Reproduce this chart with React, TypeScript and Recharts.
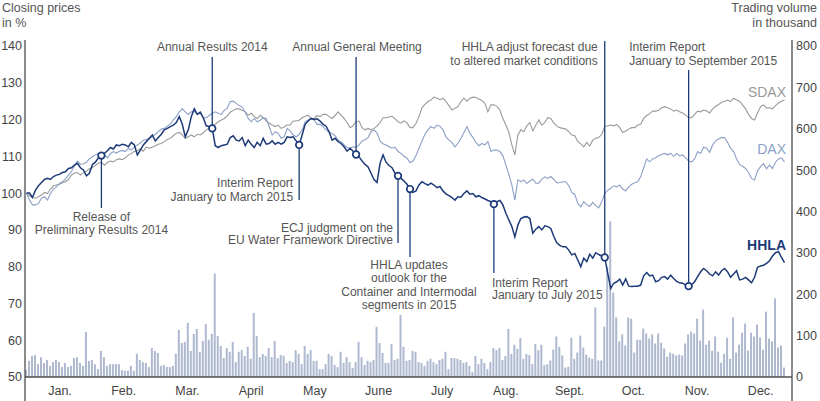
import React from 'react';
import { ComposedChart, Bar, Line, XAxis, YAxis } from 'recharts';

// ---------- data ----------
const months = ['Jan.', 'Feb.', 'Mar.', 'April', 'May', 'June', 'July', 'Aug.', 'Sept.', 'Oct.', 'Nov.', 'Dec.'];
const leftTicks = [50, 60, 70, 80, 90, 100, 110, 120, 130, 140];
const rightTicks = [0, 100, 200, 300, 400, 500, 600, 700, 800];

const hhla = [
  100.0, 100.0, 98.8, 100.8, 102.0, 102.9, 103.7, 104.0, 103.7, 104.5,
  104.9, 105.1, 105.6, 105.8, 106.7, 106.9, 107.6, 108.1, 106.9, 106.3,
  104.7, 105.4, 107.8, 108.4, 109.6, 110.2, 110.8, 111.5, 112.4, 112.0,
  113.1, 112.9, 113.3, 113.1, 112.6, 113.8, 113.1, 110.4, 111.7, 113.1,
  114.0, 114.9, 115.8, 114.2, 115.1, 116.0, 117.2, 117.6, 118.1, 118.5,
  119.2, 120.8, 118.7, 115.3, 117.2, 120.8, 122.9, 121.4, 122.0, 120.5,
  118.3, 118.1, 117.6, 112.9, 112.4, 112.9, 113.1, 113.3, 115.1, 115.6,
  114.4, 114.2, 115.1, 112.9, 114.4, 113.3, 112.4, 113.8, 112.9, 114.9,
  113.3, 113.5, 114.2, 113.3, 113.8, 113.3, 113.8, 115.3,
  115.1, 115.3, 114.2, 113.1, 115.8, 118.7, 119.6, 120.3, 120.0, 120.2,
  119.6, 118.7, 118.2, 116.7, 114.4, 114.9, 114.0, 113.5, 112.6, 111.4,
  112.2, 111.4, 110.5, 109.9, 108.7, 107.8, 107.1, 105.4, 103.7, 102.9,
  108.1, 110.4, 108.4, 107.5, 106.9, 105.4, 104.7, 104.0, 103.3, 102.4,
  101.1, 100.2, 100.6, 102.2, 103.1, 102.6, 102.2, 102.7, 102.2, 101.5,
  101.8, 100.6, 99.8, 99.3, 98.8, 98.1, 99.0, 98.9, 99.9, 100.6,
  99.7, 99.9, 99.0, 99.3, 98.8, 98.4, 98.0, 97.7, 97.0, 97.7,
  98.0, 96.8, 94.5, 92.7, 90.9, 88.1, 91.3, 93.1, 93.5, 93.6,
  93.1, 89.1, 90.2, 90.9, 90.0, 91.1, 90.9, 90.4, 88.2, 86.5,
  85.8, 85.4, 85.4, 84.5, 83.2, 83.6, 81.8, 80.0, 82.3, 81.4,
  83.4, 82.3, 83.8, 83.3, 82.9, 82.5, 78.2, 74.1, 75.5, 75.9,
  76.6, 75.0, 76.7, 74.7, 74.6, 74.7, 74.7, 75.0, 77.5, 78.4,
  77.5, 77.7, 75.9, 76.2, 77.1, 77.3, 76.6, 77.7, 76.8, 76.0,
  75.6, 75.5, 75.0, 74.7, 75.1, 75.9, 77.3, 78.6, 79.5, 78.9,
  78.0, 77.5, 78.6, 77.7, 78.9, 79.5, 78.6, 77.1, 78.0, 78.9,
  76.4, 76.6, 77.1, 76.4, 75.6, 77.1, 79.8, 80.2, 80.4, 80.9,
  81.6, 82.9, 83.8, 84.1, 82.5, 81.1,
];

const dax = [
  100.0, 98.1, 96.8, 96.8, 97.2, 98.6, 99.0, 98.1, 99.9, 101.1,
  101.7, 102.6, 103.1, 103.8, 104.9, 105.8, 107.5, 108.7, 107.8, 108.0,
  108.4, 109.3, 109.9, 110.4, 110.8, 110.5, 110.4, 109.6, 110.7, 111.3,
  110.9, 111.4, 111.6, 111.3, 112.2, 111.7, 112.5, 113.1, 113.6, 114.4,
  114.6, 114.9, 115.3, 116.0, 116.7, 117.4, 117.6, 118.2, 118.8, 119.9,
  120.8, 122.1, 122.9, 122.1, 121.4, 122.1, 122.3, 121.4, 121.7, 120.5,
  120.5, 121.1, 121.7, 122.1, 121.7, 121.4, 122.5, 123.1, 124.9, 125.0,
  124.4, 123.8, 123.4, 122.0, 120.3, 119.4, 120.3, 119.4, 119.8, 120.5,
  120.3, 118.1, 115.8, 116.7, 116.3, 114.9, 115.3, 117.6,
  116.9, 115.8, 115.3, 116.0, 117.2, 119.4, 119.9, 120.2, 119.9, 118.7,
  118.7, 118.0, 117.2, 116.5, 116.2, 115.6, 114.4, 114.0, 113.1, 112.4,
  112.2, 112.6, 112.4, 113.1, 114.2, 114.5, 115.1, 116.7, 117.2, 116.3,
  114.2, 113.4, 113.1, 112.6, 112.2, 112.5, 111.3, 110.8, 110.0, 109.5,
  108.3, 108.7, 110.2, 112.2, 114.2, 116.0, 117.2, 118.1, 117.6, 118.5,
  118.2, 117.2, 115.3, 114.4, 113.8, 112.6, 113.5, 114.9, 116.5, 118.1,
  116.3, 115.1, 113.8, 112.9, 113.5, 113.1, 114.0, 111.3, 111.7, 111.7,
  111.3, 110.2, 107.6, 105.1, 102.2, 98.1, 103.6, 103.1, 103.6, 102.6,
  103.3, 103.8, 102.7, 102.7, 103.8, 104.4, 104.0, 104.5, 103.7, 102.8,
  102.9, 103.1, 103.1, 102.0, 100.2, 99.7, 97.2, 96.3, 97.7, 96.8,
  96.4, 97.5, 96.6, 96.0, 97.7, 99.9, 100.8, 101.3, 102.0, 101.7,
  102.2, 101.1, 100.6, 101.7, 102.4, 102.8, 103.1, 104.5, 106.9, 109.3,
  108.5, 109.3, 109.6, 110.2, 110.5, 110.8, 110.4, 110.8, 110.0, 110.8,
  110.1, 110.4, 109.6, 108.7, 108.5, 109.3, 111.3, 110.8, 112.5, 112.2,
  111.1, 113.1, 114.2, 114.7, 115.1, 115.1, 113.8, 112.2, 111.3, 109.3,
  107.8, 107.3, 106.7, 105.6, 104.0, 103.6, 106.0, 107.2, 108.0, 106.6,
  107.6, 106.7, 108.4, 109.3, 109.6, 108.5,
];

const sdax = [
  100.0, 99.3, 98.8, 98.6, 99.0, 99.5, 100.2, 99.9, 101.1, 102.0,
  102.2, 102.4, 102.8, 103.1, 103.7, 104.9, 105.4, 105.6, 104.9, 105.5,
  106.0, 106.6, 106.9, 107.6, 108.1, 108.4, 107.6, 108.3, 108.7, 108.5,
  109.1, 109.3, 109.1, 109.6, 110.4, 110.8, 111.3, 111.6, 112.0, 111.4,
  112.5, 112.2, 112.5, 112.9, 113.3, 113.5, 114.0, 114.6, 114.9, 115.6,
  116.3, 116.5, 115.8, 114.9, 115.3, 115.8, 115.3, 116.0, 115.8, 116.4,
  117.2, 117.8, 118.2, 118.7, 119.4, 119.9, 120.3, 121.0, 122.0, 122.5,
  122.9, 122.9, 122.5, 122.1, 121.2, 121.7, 120.8, 120.3, 121.2, 120.5,
  119.6, 119.0, 118.5, 118.1, 118.5, 117.6, 118.0, 118.5,
  118.5, 119.6, 119.6, 119.8, 120.5, 120.9, 121.2, 120.3, 120.3, 121.1,
  120.8, 121.4, 121.4, 120.8, 120.3, 121.1, 122.1, 121.2, 120.3, 119.2,
  117.8, 118.3, 119.4, 119.6, 117.8, 117.2, 117.6, 117.2, 117.6, 118.2,
  119.2, 120.5, 120.5, 120.7, 120.9, 120.2, 119.4, 119.0, 119.6, 119.1,
  117.8, 117.8, 119.0, 120.8, 123.2, 124.1, 124.9, 125.3, 126.1, 125.8,
  125.4, 125.8, 124.9, 123.8, 122.6, 123.1, 123.5, 124.9, 125.8, 125.0,
  125.8, 126.1, 126.0, 125.6, 125.2, 124.4, 122.1, 124.0, 124.0, 123.6,
  122.6, 120.3, 118.5, 116.5, 113.1, 110.4, 115.8, 117.2, 116.7, 118.3,
  119.2, 116.9, 118.5, 119.9, 118.5, 119.2, 120.5, 120.3, 119.1, 118.2,
  117.8, 117.6, 117.4, 116.7, 115.8, 115.6, 114.0, 113.4, 112.6, 113.8,
  112.8, 114.4, 114.9, 115.1, 116.0, 118.1, 118.3, 118.5, 118.3, 118.7,
  117.8, 116.5, 116.9, 117.4, 117.8, 117.8, 118.5, 118.7, 120.3, 121.1,
  121.6, 122.3, 122.3, 122.5, 123.2, 123.5, 123.2, 122.9, 122.3, 122.6,
  122.1, 121.8, 121.2, 120.6, 120.5, 121.4, 122.3, 122.1, 122.6, 122.3,
  121.8, 122.9, 123.6, 124.1, 124.7, 125.0, 125.3, 124.9, 125.8, 125.3,
  125.0, 124.0, 122.9, 121.4, 120.3, 119.9, 121.8, 123.5, 124.0, 123.1,
  123.2, 122.9, 123.8, 124.5, 125.0, 125.3,
];

const volume = [
  17, 39, 51, 53, 31, 48, 34, 41, 27, 36,
  41, 36, 24, 34, 24, 27, 46, 48, 34, 27,
  109, 39, 41, 31, 19, 63, 48, 27, 31, 31,
  31, 31, 17, 15, 15, 27, 15, 56, 41, 36,
  34, 24, 70, 63, 58, 27, 29, 24, 24, 27,
  56, 114, 82, 85, 131, 63, 104, 116, 61, 87,
  128, 90, 104, 250, 99, 75, 46, 70, 61, 85,
  36, 61, 65, 51, 73, 44, 155, 99, 48, 56,
  51, 70, 48, 87, 46, 53, 51, 34,
  39, 36, 65, 56, 31, 75, 56, 65, 39, 39,
  19, 19, 31, 56, 51, 29, 24, 61, 34, 48,
  36, 22, 36, 85, 48, 29, 39, 36, 41, 121,
  82, 58, 34, 34, 80, 41, 44, 150, 73, 39,
  41, 63, 61, 36, 34, 27, 39, 44, 36, 31,
  41, 44, 61, 19, 46, 46, 44, 41, 34, 36,
  27, 12, 51, 31, 44, 34, 19, 36, 70, 65,
  70, 41, 51, 116, 56, 78, 68, 94, 44, 56,
  53, 31, 80, 65, 78, 29, 31,
  40, 66, 98, 73, 52, 23, 25, 95, 44, 59,
  100, 71, 54, 47, 44, 168, 40, 40, 122, 267,
  376, 204, 144, 86, 103, 76, 144, 141, 59, 90,
  90, 117, 105, 93, 103, 81, 105, 83, 69, 49,
  59, 56, 52, 54, 52, 81, 103, 110, 105, 141,
  88, 163, 78, 88, 64, 98, 61, 35, 56, 95,
  44, 144, 59, 78, 107, 129, 64, 107, 98, 127,
  95, 66, 158, 93, 86, 190, 71, 76, 23,
];

// trading day (1-based) on which each event happened, with its caption
const eventDays = [26, 63, 92, 111, 125, 129, 157, 194, 222];
const eventTexts = [
  ['Release of', 'Preliminary Results 2014'],
  ['Annual Results 2014'],
  ['Interim Report', 'January to March 2015'],
  ['Annual General Meeting'],
  ['ECJ judgment on the', 'EU Water Framework Directive'],
  ['HHLA updates', 'outlook for the', 'Container and Intermodal', 'segments in 2015'],
  ['Interim Report', 'January to July 2015'],
  ['HHLA adjust forecast due', 'to altered market conditions'],
  ['Interim Report', 'January to September 2015'],
];

// ---------- layout / styles ----------
const W = 820;
const H = 401;
const PLOT_TOP = 46;
const PLOT_BOTTOM = 377;
const LEFT_W = 25;
const RIGHT_W = 28;
const FONT = '"Liberation Sans", Arial, Helvetica, sans-serif';
const NAVY = '#1d3a78';
const DAX_C = '#8c9fc6';
const SDAX_C = '#9a9a9a';
const BAR_C = '#aeb9d0';
const AXIS_C = '#4d4d4d';
const TICK_C = '#444444';
const TEXT_C = '#555555';

// caption placement for each event (pixel layout)
const eventLayout = [
  { lineTo: 208, anchor: 'middle', dx: 0, y0: 217, lh: 12.8 },
  { lineTo: 57, anchor: 'middle', dx: 0, y0: 46.7, lh: 13 },
  { lineTo: 200, anchor: 'end', dx: -6, y0: 183, lh: 13.8 },
  { lineTo: 57, anchor: 'middle', dx: 1, y0: 46.7, lh: 13 },
  { lineTo: 243, anchor: 'end', dx: -5, y0: 227.5, lh: 12.5 },
  { lineTo: 257, anchor: 'middle', dx: -1, y0: 265, lh: 13.4 },
  { lineTo: 273, anchor: 'start', dx: -2, y0: 282.5, lh: 12.5 },
  { lineTo: 41, anchor: 'end', dx: -7, y0: 46.7, lh: 14 },
  { lineTo: 70, anchor: 'start', dx: -59.5, y0: 46.7, lh: 14 },
];

const rows = hhla.map((v, k) => ({
  day: k + 1,
  hhla: v,
  dax: dax[k],
  sdax: sdax[k],
  volume: volume[k],
}));

const monthTicks = months.map((_, m) => 12.2 + 21.26 * m);

const renderEventDot = (props: any) => {
  const { cx, cy, payload, index } = props;
  const day = payload ? payload.day : index + 1;
  const k = eventDays.indexOf(day);
  if (k < 0 || cx == null || cy == null) return <g key={`dot-${index}`} />;
  const L = eventLayout[k];
  return (
    <g key={`dot-${index}`}>
      <line x1={cx} x2={cx} y1={cy} y2={L.lineTo} stroke={NAVY} strokeWidth={1.3} />
      {eventTexts[k].map((t, j) => (
        <text
          key={j}
          x={cx + L.dx}
          y={L.y0 + j * L.lh}
          textAnchor={L.anchor as any}
          dominantBaseline="central"
          fontFamily={FONT}
          fontSize={12}
          fill={TEXT_C}
        >
          {t}
        </text>
      ))}
      <circle cx={cx} cy={cy} r={3.3} fill="#ffffff" stroke={NAVY} strokeWidth={1.7} />
    </g>
  );
};

export default function App() {
  const tickStyle = { fill: TICK_C, fontSize: 12.5, fontFamily: FONT };
  return (
    <div style={{ position: 'absolute', left: 0, top: 0, width: W, height: H, background: '#ffffff', fontFamily: FONT }}>
      <ComposedChart width={W} height={H} data={rows} margin={{ top: PLOT_TOP, right: 0, bottom: 0, left: 0 }}>
        <XAxis
          dataKey="day"
          type="number"
          domain={[0.5, 256.5]}
          ticks={monthTicks}
          interval={0}
          tickFormatter={(v: number) => months[monthTicks.indexOf(v)] ?? ''}
          height={H - PLOT_BOTTOM}
          axisLine={{ stroke: AXIS_C, strokeWidth: 1.3 }}
          tickLine={false}
          tickSize={0}
          tickMargin={9}
          tick={tickStyle}
        />
        <YAxis
          yAxisId="l"
          domain={[50, 140]}
          ticks={leftTicks}
          interval={0}
          width={LEFT_W}
          axisLine={false}
          tickLine={false}
          tickSize={0}
          tickMargin={3}
          tick={tickStyle}
        />
        <YAxis
          yAxisId="r"
          orientation="right"
          domain={[0, 800]}
          ticks={rightTicks}
          interval={0}
          width={RIGHT_W}
          axisLine={false}
          tickLine={false}
          tickSize={0}
          tickMargin={4}
          tick={{ ...tickStyle, textAnchor: 'start' }}
        />
        <Bar yAxisId="r" dataKey="volume" fill={BAR_C} barSize={2} isAnimationActive={false} />
        <Line yAxisId="l" dataKey="sdax" stroke={SDAX_C} strokeWidth={1.1} dot={false} activeDot={false} isAnimationActive={false} type="linear" />
        <Line yAxisId="l" dataKey="dax" stroke={DAX_C} strokeWidth={1.1} dot={false} activeDot={false} isAnimationActive={false} type="linear" />
        <Line yAxisId="l" dataKey="hhla" stroke={NAVY} strokeWidth={1.5} dot={renderEventDot} activeDot={false} isAnimationActive={false} type="linear" />
      </ComposedChart>
      <svg width={W} height={H} style={{ position: 'absolute', left: 0, top: 0, pointerEvents: 'none' }}>
        <line x1={LEFT_W} x2={LEFT_W} y1={40} y2={H} stroke={AXIS_C} strokeWidth={1.3} />
        <line x1={W - RIGHT_W} x2={W - RIGHT_W} y1={40} y2={H} stroke={AXIS_C} strokeWidth={1.3} />
        <text x={2} y={7.5} dominantBaseline="central" fontSize={12.5} fill={TEXT_C} fontFamily={FONT}>Closing prices</text>
        <text x={2} y={23} dominantBaseline="central" fontSize={12.5} fill={TEXT_C} fontFamily={FONT}>in %</text>
        <text x={817} y={7.5} textAnchor="end" dominantBaseline="central" fontSize={12.5} fill={TEXT_C} fontFamily={FONT}>Trading volume</text>
        <text x={817} y={23} textAnchor="end" dominantBaseline="central" fontSize={12.5} fill={TEXT_C} fontFamily={FONT}>in thousand</text>
        <text x={786} y={92} textAnchor="end" dominantBaseline="central" fontSize={14} fill={SDAX_C} fontFamily={FONT}>SDAX</text>
        <text x={786} y={149} textAnchor="end" dominantBaseline="central" fontSize={14} fill={DAX_C} fontFamily={FONT}>DAX</text>
        <text x={786} y={245} textAnchor="end" dominantBaseline="central" fontSize={14} fontWeight="bold" fill={NAVY} fontFamily={FONT}>HHLA</text>
      </svg>
    </div>
  );
}
